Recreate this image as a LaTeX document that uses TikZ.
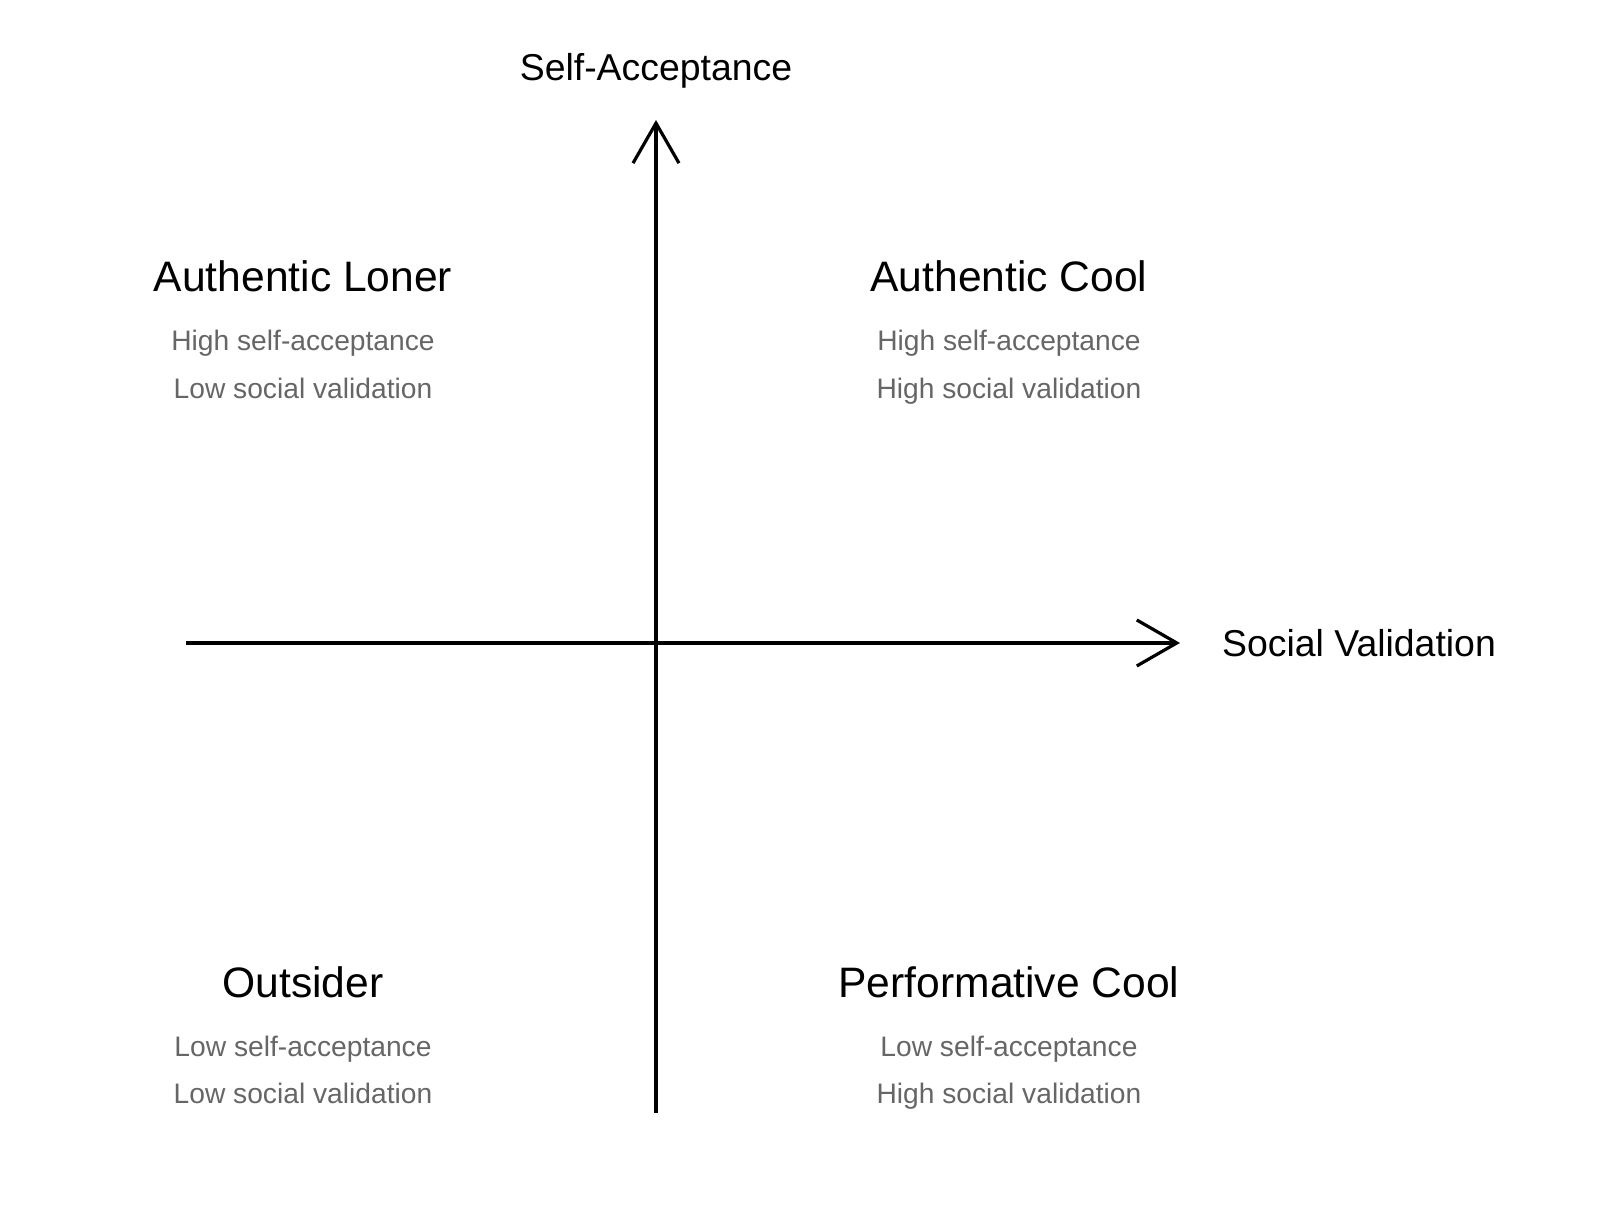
\documentclass[tikz,border=0pt]{standalone}
\usepackage{fontspec}
\setmainfont{Liberation Sans}
\usepackage{tikz}
\usetikzlibrary{arrows.meta}

\definecolor{notegray}{HTML}{666666}

\begin{document}
\begin{tikzpicture}[
    axis/.style={line width=1.6pt, -{Straight Barb[length=20pt, width=23pt, line width=1.6pt]}},
    axislabel/.style={font=\fontsize{18.7}{22}\selectfont, inner sep=0pt, anchor=base},
    quadtitle/.style={font=\fontsize{21.3}{25}\selectfont, inner sep=0pt, anchor=base},
    quadnote/.style={font=\fontsize{14.1}{17}\selectfont, text=notegray, inner sep=0pt, anchor=base}
]
    \useasboundingbox (-11.528,-10.069) rectangle (16.589,11.299);

    % --- Axes ---
    \coordinate (xstart) at (-8.259, 0);
    \coordinate (xend)   at (9.208, 0);
    \coordinate (ystart) at (0, -8.259);
    \coordinate (yend)   at (0, 9.191);
    \draw[axis] (xstart) -- (xend);
    \draw[axis] (ystart) -- (yend);

    \node[axislabel] (ylabel) at (0, 9.889) {Self-Acceptance};
    \node[axislabel] (xlabel) at (12.354, -0.233) {Social Validation};

    % --- Upper left ---
    \node[quadtitle] (loner) at (-6.203, 6.173) {Authentic Loner};
    \node[quadnote] (lonerA) at (-6.203, 5.136) {High self-acceptance};
    \node[quadnote] (lonerB) at (-6.203, 4.293) {Low social validation};

    % --- Upper right ---
    \node[quadtitle] (acool) at (6.203, 6.173) {Authentic Cool};
    \node[quadnote] (acoolA) at (6.203, 5.136) {High self-acceptance};
    \node[quadnote] (acoolB) at (6.203, 4.293) {High social validation};

    % --- Lower left ---
    \node[quadtitle] (outsider) at (-6.203, -6.236) {Outsider};
    \node[quadnote] (outsiderA) at (-6.203, -7.270) {Low self-acceptance};
    \node[quadnote] (outsiderB) at (-6.203, -8.096) {Low social validation};

    % --- Lower right ---
    \node[quadtitle] (pcool) at (6.203, -6.236) {Performative Cool};
    \node[quadnote] (pcoolA) at (6.203, -7.270) {Low self-acceptance};
    \node[quadnote] (pcoolB) at (6.203, -8.096) {High social validation};
\end{tikzpicture}
\end{document}
